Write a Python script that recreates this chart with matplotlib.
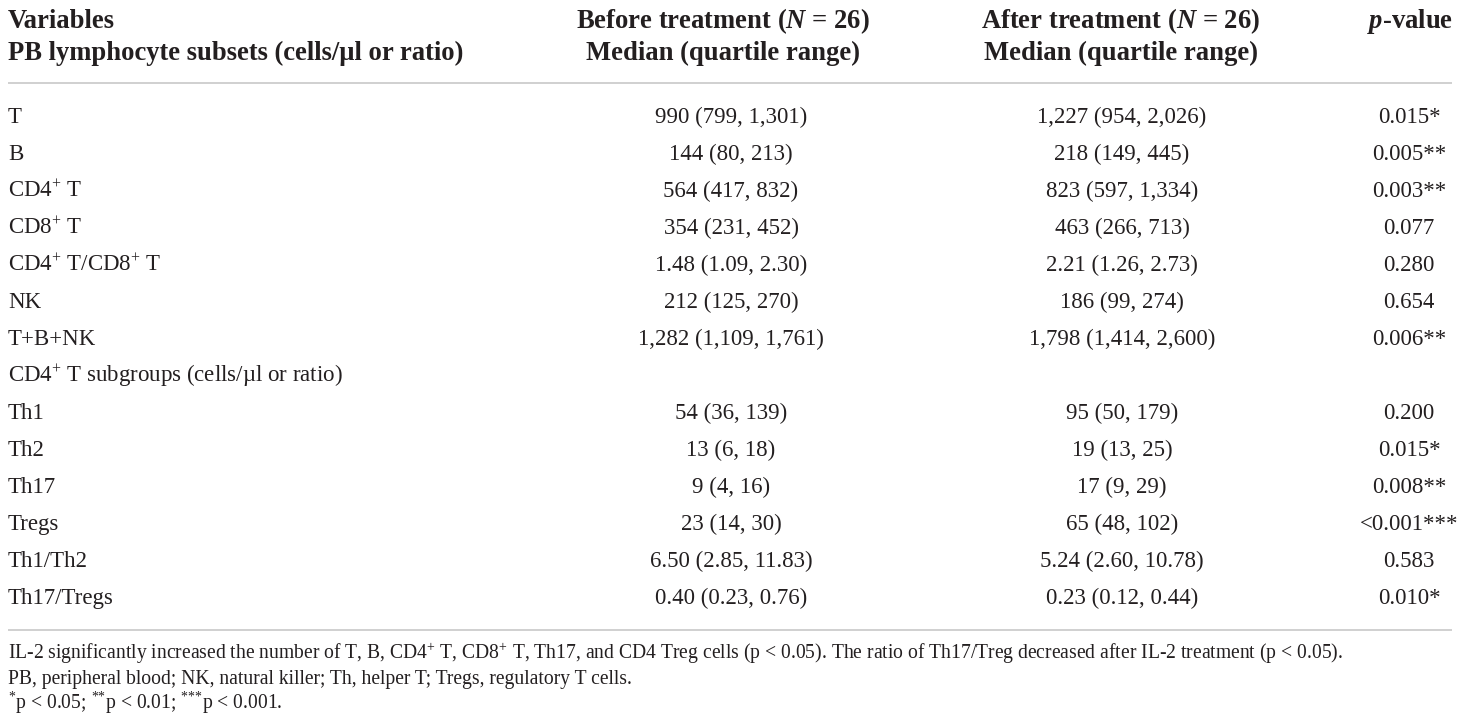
import matplotlib
matplotlib.use("Agg")
import matplotlib.pyplot as plt

plt.rcParams['font.family'] = ['Liberation Serif', 'DejaVu Serif']
plt.rcParams['mathtext.fontset'] = 'custom'
plt.rcParams['mathtext.rm'] = 'Liberation Serif'
plt.rcParams['mathtext.it'] = 'Liberation Serif:italic'
plt.rcParams['mathtext.bf'] = 'Liberation Serif:bold'
plt.rcParams['mathtext.bfit'] = 'Liberation Serif:italic:bold'

# ---- data ----
header_col1 = ["Variables", "PB lymphocyte subsets (cells/µl or ratio)"]
header_before = [r"Before treatment ($\mathbfit{N}$ = 26)", "Median (quartile range)"]
header_after = [r"After treatment ($\mathbfit{N}$ = 26)", "Median (quartile range)"]
header_p = r"$\mathbfit{p}$-value"

variables = ["T", "B", r"CD4$^{+}$ T", r"CD8$^{+}$ T", r"CD4$^{+}$ T/CD8$^{+}$ T", "NK",
             "T+B+NK", r"CD4$^{+}$ T subgroups (cells/µl or ratio)",
             "Th1", "Th2", "Th17", "Tregs", "Th1/Th2", "Th17/Tregs"]
before = ["990 (799, 1,301)", "144 (80, 213)", "564 (417, 832)", "354 (231, 452)",
          "1.48 (1.09, 2.30)", "212 (125, 270)", "1,282 (1,109, 1,761)", "",
          "54 (36, 139)", "13 (6, 18)", "9 (4, 16)", "23 (14, 30)",
          "6.50 (2.85, 11.83)", "0.40 (0.23, 0.76)"]
after = ["1,227 (954, 2,026)", "218 (149, 445)", "823 (597, 1,334)", "463 (266, 713)",
         "2.21 (1.26, 2.73)", "186 (99, 274)", "1,798 (1,414, 2,600)", "",
         "95 (50, 179)", "19 (13, 25)", "17 (9, 29)", "65 (48, 102)",
         "5.24 (2.60, 10.78)", "0.23 (0.12, 0.44)"]
pvalues = ["0.015*", "0.005**", "0.003**", "0.077", "0.280", "0.654", "0.006**", "",
           "0.200", "0.015*", "0.008**", "<0.001***", "0.583", "0.010*"]
footnotes = [
    r"IL-2 significantly increased the number of T, B, CD4$^{+}$ T, CD8$^{+}$ T, Th17, and CD4 Treg cells (p < 0.05). "
    r"The ratio of Th17/Treg decreased after IL-2 treatment (p < 0.05).",
    "PB, peripheral blood; NK, natural killer; Th, helper T; Tregs, regulatory T cells.",
    r"$^{\text{*}}$p < 0.05; $^{\text{**}}$p < 0.01; $^{\text{***}}$p < 0.001.",
]

# ---- layout ----
W, H = 1460, 721
fig = plt.figure(figsize=(W / 100, H / 100), dpi=100)
ax = fig.add_axes([0, 0, 1, 1])
ax.set_xlim(0, W)
ax.set_ylim(H, 0)
ax.axis('off')

txt = '#231f20'
line_c = '#c8c8c8'
hfs = 19.2
bfs = 16.5
ffs = 14.1

x_left = 8
x_before_h, x_before_d = 723, 731
x_after_h, x_after_d = 1121, 1122
x_p_h, x_p_d = 1410, 1409

# baseline offsets (cap-centre -> baseline) in px
hb = 0.662 * hfs * 100 / 72 / 2
bb = 0.662 * bfs * 100 / 72 / 2
fb = 0.662 * ffs * 100 / 72 / 2

hy = [19, 51]
for i in range(2):
    ax.text(x_left, hy[i] + hb, header_col1[i], ha='left', va='baseline', fontsize=hfs,
            fontweight='bold', color=txt)
    ax.text(x_before_h, hy[i] + hb, header_before[i], ha='center', va='baseline', fontsize=hfs,
            fontweight='bold', color=txt)
    ax.text(x_after_h, hy[i] + hb, header_after[i], ha='center', va='baseline', fontsize=hfs,
            fontweight='bold', color=txt)
ax.text(x_p_h, hy[0] + hb, header_p, ha='center', va='baseline', fontsize=hfs,
        fontweight='bold', color=txt)

ax.plot([x_left, 1452], [83, 83], color=line_c, lw=1.2, solid_capstyle='butt')

y0, dy = 115, 37.05
for i, (v, b, a, p) in enumerate(zip(variables, before, after, pvalues)):
    y = y0 + i * dy + bb
    ax.text(x_left, y, v, ha='left', va='baseline', fontsize=bfs, color=txt)
    ax.text(x_before_d, y, b, ha='center', va='baseline', fontsize=bfs, color=txt)
    ax.text(x_after_d, y, a, ha='center', va='baseline', fontsize=bfs, color=txt)
    ax.text(x_p_d, y, p, ha='center', va='baseline', fontsize=bfs, color=txt)

ax.plot([x_left, 1452], [630, 630], color=line_c, lw=1.2, solid_capstyle='butt')

fy = [653, 678, 702]
for i, f in enumerate(footnotes):
    ax.text(x_left, fy[i] + fb, f, ha='left', va='baseline', fontsize=ffs, color=txt)

fig.savefig('out.png', dpi=100, facecolor='white')
